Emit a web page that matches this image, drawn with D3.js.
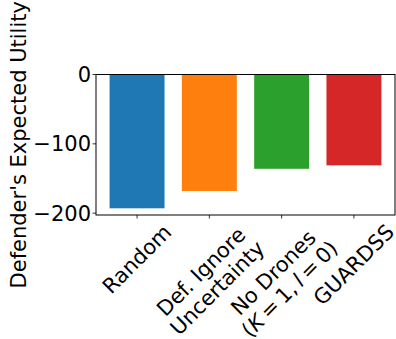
<!DOCTYPE html>
<html>
<head>
<meta charset="utf-8">
<script src="https://cdn.jsdelivr.net/npm/d3@7"></script>
<style>
  body { margin: 0; background: #fff; }
  text { font-family: "DejaVu Sans", sans-serif; }
</style>
</head>
<body>
<svg id="chart" width="396" height="339"></svg>
<script>
// data
var categories = ["Random", "Def. Ignore\nUncertainty", "No Drones\n(K = 1, l = 0)", "GUARDSS"];
var values = [-193, -168, -136, -131];
var colors = ["#1f77b4", "#ff7f0e", "#2ca02c", "#d62728"];
var yTicks = [0, -100, -200];

function plot() {
  var fs = 21;
  var svg = d3.select("#chart");
  var mLeft = 96, mRight = 395, mTop = 74.5, mBottom = 215;

  var x = d3.scalePoint().domain(d3.range(categories.length)).range([mLeft, mRight]).padding(0.568);
  var barW = x.step() * 0.76;
  var y = d3.scaleLinear().domain([d3.min(values) * 1.05, 0]).range([mBottom, mTop]);

  // bars
  svg.selectAll("rect.bar")
    .data(values)
    .enter()
    .append("rect")
    .attr("class", "bar")
    .attr("x", function(d, i) { return x(i) - barW / 2; })
    .attr("y", y(0))
    .attr("width", barW)
    .attr("height", function(d) { return y(d) - y(0); })
    .attr("fill", function(d, i) { return colors[i]; });

  // frame
  svg.append("rect")
    .attr("x", mLeft).attr("y", mTop)
    .attr("width", mRight - mLeft).attr("height", mBottom - mTop)
    .attr("fill", "none").attr("stroke", "#000").attr("stroke-width", 1);

  // y axis
  var yAxis = svg.append("g");
  yTicks.forEach(function(t) {
    yAxis.append("line")
      .attr("x1", mLeft - 3.5).attr("x2", mLeft)
      .attr("y1", y(t)).attr("y2", y(t))
      .attr("stroke", "#000").attr("stroke-width", 0.8);
    yAxis.append("text")
      .attr("x", mLeft - 5).attr("y", y(t))
      .attr("dy", "0.36em")
      .attr("text-anchor", "end")
      .attr("font-size", fs)
      .text(t < 0 ? "\u2212" + Math.abs(t) : t);
  });

  // x ticks + rotated labels
  var lineH = fs * 1.1;
  categories.forEach(function(c, i) {
    var cx = x(i);
    svg.append("line")
      .attr("x1", cx).attr("x2", cx)
      .attr("y1", mBottom).attr("y2", mBottom + 3.5)
      .attr("stroke", "#000").attr("stroke-width", 0.8);

    var lines = c.split("\n");
    var g = svg.append("g");
    var txt = g.append("text")
      .attr("text-anchor", "middle")
      .attr("font-size", fs);
    lines.forEach(function(l, k) {
      var ts = txt.append("tspan").attr("x", 0).attr("y", k * lineH);
      var m = l.match(/^\((K) = 1, (l) = 0\)$/);
      if (m) {
        // math-style label: italic symbols, tighter spaces
        ts.append("tspan").text("(");
        ts.append("tspan").attr("font-style", "italic").text("K");
        ts.append("tspan").text("\u2009=\u20091,\u2009");
        ts.append("tspan").attr("font-style", "italic").text("l");
        ts.append("tspan").text("\u2009=\u20090)");
      } else {
        ts.text(l);
      }
    });
    var bb = txt.node().getBBox();
    var W = bb.width, H = bb.height;
    var ccx = bb.x + W / 2, ccy = bb.y + H / 2;
    txt.attr("transform", "translate(" + (-ccx) + "," + (-ccy) + ")");
    var half = (W + H) / (2 * Math.SQRT2);
    g.attr("transform", "translate(" + cx + "," + (mBottom + 5 + half) + ") rotate(-45)");
  });

  // y label
  svg.append("text")
    .attr("transform", "translate(" + 18 + "," + ((mTop + mBottom) / 2) + ") rotate(-90)")
    .attr("text-anchor", "middle")
    .attr("dy", "0.36em")
    .attr("font-size", fs)
    .text("Defender's Expected Utility");
}
plot();
</script>
</body>
</html>
